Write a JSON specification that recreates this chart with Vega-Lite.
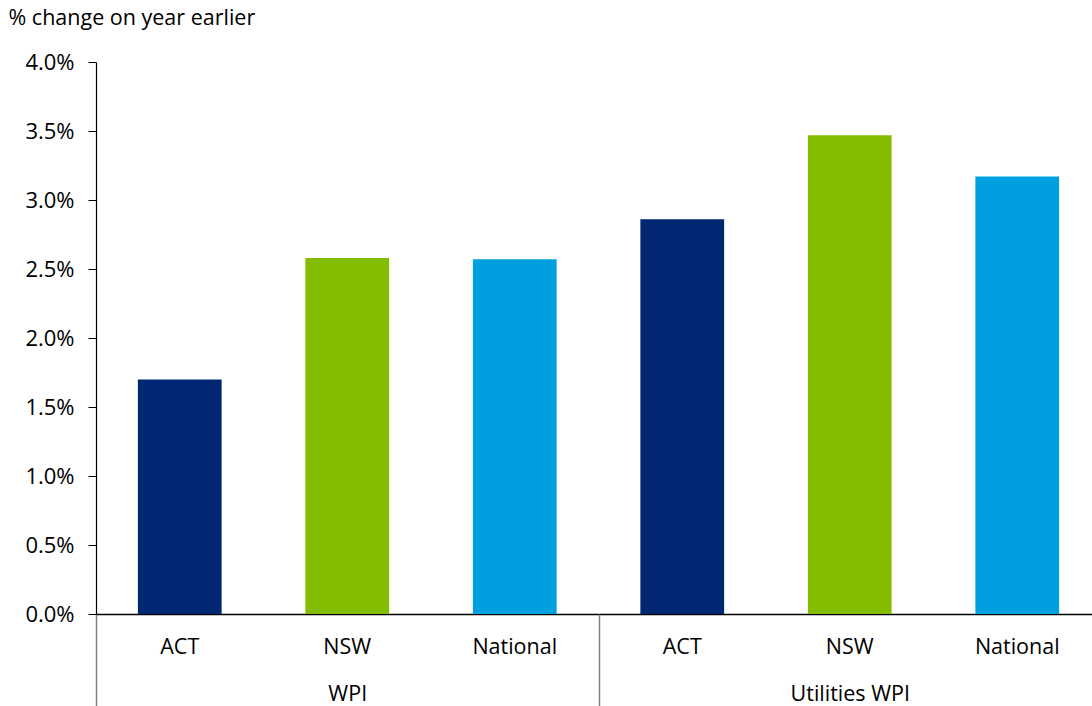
{
  "$schema": "https://vega.github.io/schema/vega-lite/v6.json",
  "autosize": {"type": "none"},
  "width": 1005,
  "height": 552,
  "padding": {"left": 96, "top": 62, "right": 0, "bottom": 92},
  "background": "white",
  "config": {
    "view": {"stroke": null},
    "font": "Open Sans",
    "axis": {"labelFont": "Open Sans", "titleFont": "Open Sans", "labelColor": "#000000", "titleColor": "#000000"}
  },
  "data": {
    "values": [
      {"key": "WPI|ACT", "group": "WPI", "state": "ACT", "value": 0.0170},
      {"key": "WPI|NSW", "group": "WPI", "state": "NSW", "value": 0.0258},
      {"key": "WPI|National", "group": "WPI", "state": "National", "value": 0.0257},
      {"key": "Utilities WPI|ACT", "group": "Utilities WPI", "state": "ACT", "value": 0.0286},
      {"key": "Utilities WPI|NSW", "group": "Utilities WPI", "state": "NSW", "value": 0.0347},
      {"key": "Utilities WPI|National", "group": "Utilities WPI", "state": "National", "value": 0.0317}
    ]
  },
  "encoding": {
    "y": {
      "field": "value",
      "type": "quantitative",
      "scale": {"domain": [0, 0.04], "nice": false, "zero": true},
      "axis": {
        "title": "% change on year earlier",
        "titleAngle": 0,
        "titleAlign": "left",
        "titleBaseline": "middle",
        "titleX": -88,
        "titleY": -44,
        "titleFontSize": 21.5,
        "titleFontWeight": "normal",
        "values": [0, 0.005, 0.01, 0.015, 0.02, 0.025, 0.03, 0.035, 0.04],
        "format": ".1%",
        "grid": false,
        "labelFontSize": 22,
        "labelPadding": 14,
        "tickSize": 8,
        "tickColor": "#000000",
        "domainColor": "#000000",
        "domainWidth": 1.2
      }
    }
  },
  "layer": [
    {
      "mark": {"type": "bar"},
      "encoding": {
        "x": {
          "field": "key",
          "type": "nominal",
          "sort": null,
          "scale": {"paddingInner": 0.5, "paddingOuter": 0.25},
          "axis": {
            "title": null,
            "orient": "bottom",
            "labelExpr": "split(datum.label, '|')[1]",
            "labelAngle": 0,
            "labelFontSize": 21.5,
            "ticks": false,
            "tickSize": 0,
            "labelPadding": 22,
            "domainColor": "#000000",
            "domainWidth": 1.5
          }
        },
        "color": {
          "field": "state",
          "type": "nominal",
          "scale": {"domain": ["ACT", "NSW", "National"], "range": ["#012672", "#84BD00", "#00A0E0"]},
          "legend": null
        }
      }
    },
    {
      "mark": {"type": "bar", "opacity": 0},
      "encoding": {
        "x": {
          "field": "group",
          "type": "nominal",
          "sort": null,
          "scale": {"paddingInner": 0, "paddingOuter": 0},
          "axis": {
            "title": null,
            "orient": "bottom",
            "offset": 0,
            "labelAngle": 0,
            "labelFontSize": 21.5,
            "domain": false,
            "ticks": true,
            "tickBand": "extent",
            "tickSize": 92,
            "tickColor": "#7f7f7f",
            "tickWidth": 1.5,
            "labelPadding": -23
          }
        }
      }
    }
  ],
  "resolve": {"scale": {"x": "independent"}, "axis": {"x": "independent"}}
}
